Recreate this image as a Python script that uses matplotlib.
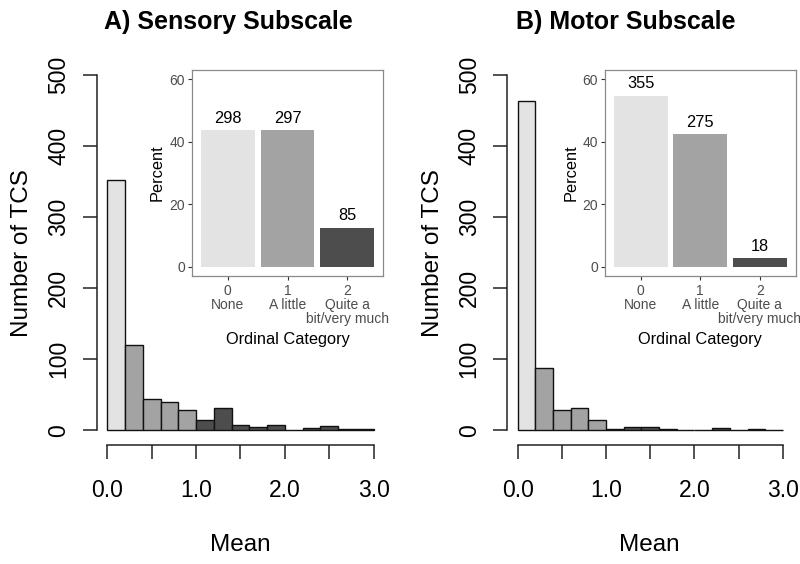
import matplotlib
matplotlib.use("Agg")
import matplotlib.pyplot as plt
import numpy as np

plt.rcParams['font.family'] = ['Liberation Sans', 'DejaVu Sans']

# ---------------- data ----------------
bin_left = [0.0, 0.2, 0.4, 0.6, 0.8, 1.0, 1.2, 1.4, 1.6, 1.8, 2.0, 2.2, 2.4, 2.6, 2.8]
bin_width = 0.2
sensory_counts = [353, 120, 44, 40, 29, 14, 32, 8, 4, 8, 1, 3, 6, 2, 2]
motor_counts = [464, 88, 29, 31, 15, 2, 4, 4, 2, 0, 0, 3, 0, 2, 1]
# ordinal group of each bin (0 = None, 1 = A little, 2 = Quite a bit/very much)
bin_group = [0, 1, 1, 1, 1, 2, 2, 2, 2, 2, 2, 2, 2, 2, 2]

ordinal_labels = ["0\nNone", "1\nA little", "2\nQuite a\nbit/very much"]
sensory_ord_counts = [298, 297, 85]
motor_ord_counts = [355, 275, 18]

hist_yticks = [0, 100, 200, 300, 400, 500]
hist_xticks = [0.0, 0.5, 1.0, 1.5, 2.0, 2.5, 3.0]
hist_xticklabels = ["0.0", "", "1.0", "", "2.0", "", "3.0"]
inset_yticks = [0, 20, 40, 60]

titles = ["A) Sensory Subscale", "B) Motor Subscale"]

group_colors = ["#e3e3e3", "#a3a3a3", "#4d4d4d"]

W, H = 800, 564
fig = plt.figure(figsize=(W / 100, H / 100), dpi=100)


def px_axes(x0, y0, x1, y1):
    """pixel box (top-left origin) -> axes"""
    return fig.add_axes([x0 / W, 1 - y1 / H, (x1 - x0) / W, (y1 - y0) / H])


def draw_hist(ax, counts):
    cols = [group_colors[g] for g in bin_group]
    ax.bar(bin_left, counts, width=bin_width, align='edge', color=cols,
           edgecolor='#111111', linewidth=1.0, zorder=2)
    ax.set_xlim(-0.12, 3.12)
    ax.set_ylim(-20, 520)
    for s in ['top', 'right']:
        ax.spines[s].set_visible(False)
    ax.spines['left'].set_bounds(0, 500)
    ax.spines['bottom'].set_bounds(0, 3)
    ax.spines['left'].set_position(('data', -0.12))
    ax.spines['bottom'].set_position(('data', -20))
    for s in ['left', 'bottom']:
        ax.spines[s].set_linewidth(1.1)
        ax.spines[s].set_color('#222222')
    ax.set_yticks(hist_yticks)
    ax.set_yticklabels([str(v) for v in hist_yticks], rotation=90, va='center')
    ax.set_xticks(hist_xticks)
    ax.set_xticklabels(hist_xticklabels)
    ax.tick_params(axis='both', direction='out', length=10, width=1.1,
                   color='#222222', labelsize=16.5)
    ax.tick_params(axis='x', pad=14.5)
    ax.tick_params(axis='y', pad=9)
    ax.text(0.498, -0.262, "Mean", transform=ax.transAxes, ha='center',
            va='center', fontsize=17.5)
    ax.text(-0.259, 0.4995, "Number of TCS", transform=ax.transAxes,
            ha='center', va='center', rotation=90, fontsize=17.5)


def draw_inset(ax, counts):
    total = sum(counts)
    pct = [c / total * 100 for c in counts]
    pos = np.arange(len(counts))
    ax.bar(pos, pct, width=0.9, color=group_colors, zorder=2)
    for p, v, c in zip(pos, pct, counts):
        ax.annotate(str(c), (p, v), xytext=(0, 3), textcoords='offset points',
                    ha='center', va='bottom', fontsize=11.8, color='black')
    ax.set_xlim(-0.6, 2.6)
    ax.set_ylim(-3, 63)
    ax.set_yticks(inset_yticks)
    ax.set_yticklabels([str(v) for v in inset_yticks])
    ax.set_xticks(pos)
    ax.set_xticklabels(ordinal_labels, linespacing=1.0)
    for s in ax.spines.values():
        s.set_color('#8a8a8a')
        s.set_linewidth(0.9)
    ax.tick_params(axis='both', direction='out', length=3, width=0.8,
                   color='#333333', labelcolor='#4d4d4d', labelsize=10, pad=2)
    ax.tick_params(axis='x', pad=3)
    ax.set_ylabel("Percent", fontsize=11.8, labelpad=3)
    ax.set_xlabel("Ordinal Category", fontsize=11.8, labelpad=4)
    ax.set_facecolor('white')


# main panels
axA = px_axes(96.6, 61.1, 384.4, 444.5)
draw_hist(axA, sensory_counts)
axB = px_axes(507.1, 61.1, 793.5, 444.5)
draw_hist(axB, motor_counts)

# insets
insA = px_axes(191.7, 70, 383.3, 276)
draw_inset(insA, sensory_ord_counts)
insB = px_axes(605, 70, 795.5, 276)
draw_inset(insB, motor_ord_counts)

fig.text(228 / W, 1 - 22 / H, titles[0], ha='center', va='center',
         fontsize=18, fontweight='bold')
fig.text(626 / W, 1 - 22 / H, titles[1], ha='center', va='center',
         fontsize=18, fontweight='bold')

fig.savefig("out.png", dpi=100)
